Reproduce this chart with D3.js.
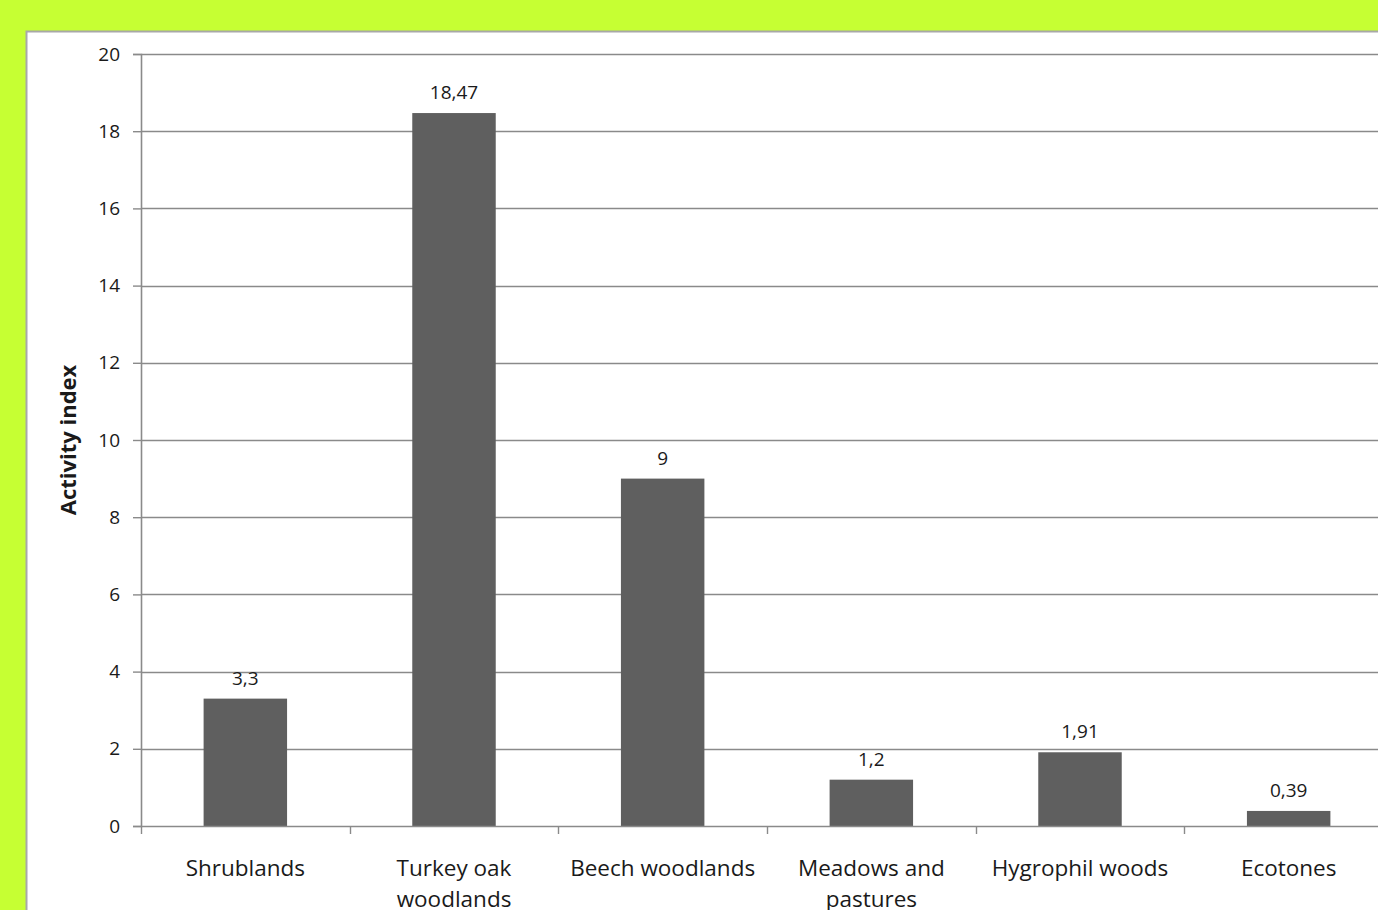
<!DOCTYPE html>
<html>
<head>
<meta charset="utf-8">
<script src="https://cdn.jsdelivr.net/npm/d3@7"></script>
<style>
  html, body { margin: 0; padding: 0; background: #c6ff33; overflow: hidden; }
  svg { display: block; }
  text { font-family: "Open Sans", "DejaVu Sans", sans-serif; fill: #1a1a1a; }
</style>
</head>
<body>
<svg id="chart" width="1378" height="910"></svg>
<script>
const categories = ["Shrublands", "Turkey oak woodlands", "Beech woodlands", "Meadows and pastures", "Hygrophil woods", "Ecotones"];
const categoryLines = [["Shrublands"], ["Turkey oak", "woodlands"], ["Beech woodlands"], ["Meadows and", "pastures"], ["Hygrophil woods"], ["Ecotones"]];
const values = [3.3, 18.47, 9, 1.2, 1.91, 0.39];
const valueLabels = ["3,3", "18,47", "9", "1,2", "1,91", "0,39"];
const yTicks = [0, 2, 4, 6, 8, 10, 12, 14, 16, 18, 20];
const yTitle = "Activity index";

const svg = d3.select("#chart");
const W = 1378, H = 910;

svg.append("rect").attr("x", 0).attr("y", 0).attr("width", W).attr("height", H).attr("fill", "#c6ff33");
svg.append("rect").attr("x", 26.5).attr("y", 31.5).attr("width", W).attr("height", H)
  .attr("fill", "#ffffff").attr("stroke", "#a8a8a8").attr("stroke-width", 2);

const x = d3.scaleBand().domain(categories).range([141, 1393]).paddingInner(0.6).paddingOuter(0.3);
const y = d3.scaleLinear().domain([0, 20]).range([826, 54]);

const gridColor = "#8a8a8a";

// gridlines
svg.append("g").selectAll("line").data(yTicks.filter(d => d !== 0)).join("line")
  .attr("x1", 141).attr("x2", W)
  .attr("y1", d => Math.round(y(d)) + 0.5).attr("y2", d => Math.round(y(d)) + 0.5)
  .attr("stroke", gridColor).attr("stroke-width", 1.4);

// y axis
const yAxis = d3.axisLeft(y).tickValues(yTicks).tickSize(8).tickPadding(13).tickFormat(d3.format("d"));
const gy = svg.append("g").attr("transform", "translate(141,0)").call(yAxis);
gy.select(".domain").attr("stroke", gridColor).attr("stroke-width", 1.6);
gy.selectAll(".tick line").attr("stroke", gridColor).attr("stroke-width", 1.4);
gy.selectAll(".tick text").style("font-size", "19px").style("font-family", "'Open Sans', sans-serif").attr("fill", "#1a1a1a");

// bars
svg.append("g").selectAll("rect").data(categories).join("rect")
  .attr("x", d => x(d)).attr("width", x.bandwidth())
  .attr("y", (d, i) => y(values[i])).attr("height", (d, i) => y(0) - y(values[i]))
  .attr("fill", "#5f5f5f");

// x axis (category boundaries)
const step = x.step();
const boundaries = d3.range(categories.length + 1).map(i => 141 + i * step);
svg.append("line").attr("x1", 141).attr("x2", W).attr("y1", y(0) + 0.5).attr("y2", y(0) + 0.5)
  .attr("stroke", gridColor).attr("stroke-width", 1.6);
svg.append("g").selectAll("line").data(boundaries).join("line")
  .attr("x1", d => Math.round(d) + 0.5).attr("x2", d => Math.round(d) + 0.5)
  .attr("y1", y(0)).attr("y2", y(0) + 8)
  .attr("stroke", gridColor).attr("stroke-width", 1.4);

// category labels
const catG = svg.append("g");
categoryLines.forEach((lines, i) => {
  const cx = x(categories[i]) + x.bandwidth() / 2;
  const t = catG.append("text").attr("text-anchor", "middle").style("font-size", "22.5px")
    .attr("x", cx).attr("y", 876);
  lines.forEach((ln, j) => {
    t.append("tspan").attr("x", cx).attr("dy", j === 0 ? 0 : 31).text(ln);
  });
});

// value labels
svg.append("g").selectAll("text").data(categories).join("text")
  .attr("x", d => x(d) + x.bandwidth() / 2)
  .attr("y", (d, i) => y(values[i]) - 14)
  .attr("text-anchor", "middle").style("font-size", "19px")
  .text((d, i) => valueLabels[i]);

// y title
svg.append("text")
  .attr("transform", "translate(76,440) rotate(-90)")
  .attr("text-anchor", "middle").style("font-size", "22px").style("font-weight", "bold")
  .attr("fill", "#000")
  .text(yTitle);
</script>
</body>
</html>
